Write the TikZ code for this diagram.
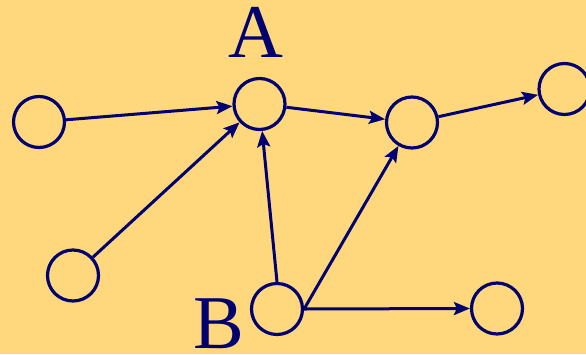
\documentclass[tikz,border=0pt]{standalone}
\usepackage{fontspec}
\setmainfont{Liberation Serif}
\usetikzlibrary{arrows.meta}
\definecolor{bgyellow}{RGB}{255,216,125}
\definecolor{navyline}{RGB}{0,0,112}

\begin{document}
\begin{tikzpicture}[x=1pt,y=-1pt,
  vertex/.style={circle, draw=navyline, line width=3.2pt, minimum size=51pt, inner sep=0pt},
  edge/.style={navyline, line width=3pt, -{Stealth[length=16pt,width=13pt,inset=3pt]}},
  biglabel/.style={text=navyline, inner sep=0pt, font=\fontsize{76}{76}\selectfont}]
% background
\fill[bgyellow] (0,0) rectangle (586,354);
\useasboundingbox (0,0) rectangle (586,354);
% vertices
\node[vertex] (left) at (39,122) {};
\node[vertex] (a) at (259.5,104) {};
\node[vertex] (mid) at (412,122.5) {};
\node[vertex] (right) at (564.5,89) {};
\node[vertex] (lowleft) at (73,275.5) {};
\node[vertex] (b) at (277,309) {};
\node[vertex] (lowright) at (497,308.5) {};
% labels
\node[biglabel] (alabel) at (255.5,32.5) {A};
\node[biglabel] (blabel) at (218.5,324) {B};
% edges
\draw[edge] (left) -- (a);
\draw[edge] (lowleft) -- (a);
\draw[edge] (a) -- (mid);
\draw[edge] (mid) -- (right);
\draw[edge] (b.north) -- (a);
\draw[edge] (b.east) -- (mid);
\draw[edge] (b.east) -- (lowright.west);
\end{tikzpicture}
\end{document}
